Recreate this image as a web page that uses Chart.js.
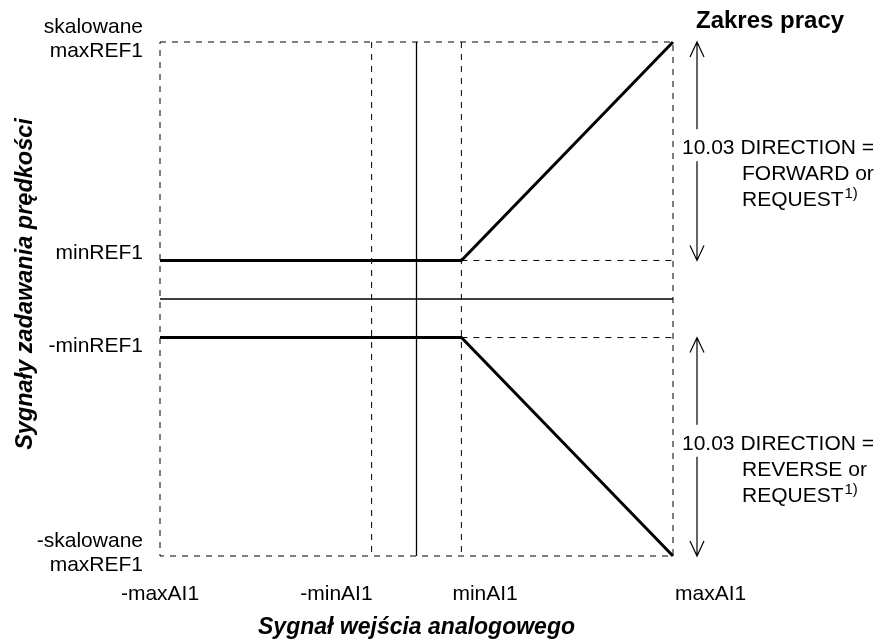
<!DOCTYPE html>
<html>
<head>
<meta charset="utf-8">
<script src="https://cdn.jsdelivr.net/npm/chart.js@4"></script>
<style>
  body { margin: 0; background: #fff; }
  canvas { display: block; }
</style>
</head>
<body>
<canvas id="refChart" width="890" height="643"></canvas>
<script>
const aiTicks = [-10, -1.75, 1.75, 10];
const aiLabels = ["-maxAI1", "-minAI1", "minAI1", "maxAI1"];
const refTicks = [10, 1.5, -1.5, -10];
const refLabels = [["skalowane", "maxREF1"], ["minREF1"], ["-minREF1"], ["-skalowane", "maxREF1"]];

const forwardAI = [-10, 1.75, 10];
const forwardRef = [1.5, 1.5, 10];
const reverseAI = [-10, 1.75, 10];
const reverseRef = [-1.5, -1.5, -10];

const forwardText = ["10.03 DIRECTION =", "FORWARD or", "REQUEST"];
const reverseText = ["10.03 DIRECTION =", "REVERSE or", "REQUEST"];

const maxAI = aiTicks[3], minAI = aiTicks[2];
const maxREF = refTicks[0], minREF = refTicks[1];

const FONT = '"Liberation Sans", Arial, sans-serif';

function pts(xs, ys) {
  return xs.map((x, i) => ({ x: x, y: ys[i] }));
}

function seg(data, width, dash) {
  return {
    data: data,
    showLine: true,
    borderColor: "#000",
    borderWidth: width,
    borderDash: dash,
    pointRadius: 0,
    tension: 0,
    clip: false,
  };
}

const dashed = [6, 6];

// x labels: first centred, the inner ones hug their guide line
const xAlign = ["center", "right", "left", "left"];
const xShift = [0, 1, -9, 2];

function arrow(ctx, x, y1, y2, gapFrom, gapTo) {
  ctx.beginPath();
  ctx.moveTo(x, y1);
  ctx.lineTo(x, gapFrom);
  ctx.moveTo(x, gapTo);
  ctx.lineTo(x, y2);
  // open heads
  ctx.moveTo(x - 7, y1 + 15);
  ctx.lineTo(x, y1);
  ctx.lineTo(x + 7, y1 + 15);
  ctx.moveTo(x - 7, y2 - 15);
  ctx.lineTo(x, y2);
  ctx.lineTo(x + 7, y2 - 15);
  ctx.stroke();
}

function rangeNote(ctx, area, top, bottom, lines) {
  const mid = (top + bottom) / 2;
  const base = mid + 3;
  arrow(ctx, area.right + 24, top, bottom, base - 25, base + 7);
  ctx.font = "21px " + FONT;
  ctx.textAlign = "left";
  ctx.textBaseline = "alphabetic";
  ctx.fillText(lines[0], area.right + 9, base);
  ctx.fillText(lines[1], area.right + 69, base + 26);
  ctx.fillText(lines[2], area.right + 69, base + 52);
  const w = ctx.measureText(lines[2]).width;
  ctx.font = "15px " + FONT;
  ctx.fillText("1)", area.right + 70 + w, base + 44);
}

const labelsPlugin = {
  id: "labels",
  afterDraw(chart) {
    const { ctx, chartArea: area, scales: { x, y } } = chart;
    ctx.save();
    ctx.fillStyle = "#000";
    ctx.strokeStyle = "#000";
    ctx.lineWidth = 1.2;

    // reference signal labels
    ctx.font = "21px " + FONT;
    ctx.textAlign = "right";
    ctx.textBaseline = "middle";
    refTicks.forEach((v, i) => {
      const py = y.getPixelForValue(v);
      const lines = refLabels[i];
      const lx = area.left - 17;
      if (lines.length > 1) {
        lines.forEach((t, j) => {
          ctx.fillText(t, lx, py - 3 + (j - (lines.length - 1) / 2) * 24.5);
        });
      } else if (v > 0) {
        ctx.fillText(lines[0], lx, py - 7);
      } else {
        ctx.fillText(lines[0], lx, py + 8.5);
      }
    });

    // analog input labels
    ctx.textBaseline = "alphabetic";
    aiTicks.forEach((v, i) => {
      ctx.textAlign = xAlign[i];
      ctx.fillText(aiLabels[i], x.getPixelForValue(v) + xShift[i], area.bottom + 44);
    });

    // axis titles
    ctx.font = "italic bold 23px " + FONT;
    ctx.textAlign = "center";
    ctx.fillText("Sygnał wejścia analogowego", (area.left + area.right) / 2, area.bottom + 78);
    ctx.save();
    ctx.translate(32, (area.top + area.bottom) / 2 - 15);
    ctx.rotate(-Math.PI / 2);
    ctx.font = "italic bold 23.5px " + FONT;
    ctx.fillText("Sygnały zadawania prędkości", 0, 0);
    ctx.restore();

    ctx.font = "bold 24px " + FONT;
    ctx.textAlign = "left";
    ctx.fillText("Zakres pracy", area.right + 23, 28);

    rangeNote(ctx, area, y.getPixelForValue(maxREF), y.getPixelForValue(minREF), forwardText);
    rangeNote(ctx, area, y.getPixelForValue(-minREF), y.getPixelForValue(-maxREF), reverseText);
    ctx.restore();
  },
};

new Chart(document.querySelector("#refChart"), {
  type: "scatter",
  data: {
    datasets: [
      seg(pts(forwardAI, forwardRef), 3, []),
      seg(pts(reverseAI, reverseRef), 3, []),
      // solid zero axes
      seg(pts([-maxAI, maxAI], [0, 0]), 1.3, []),
      seg(pts([0, 0], [maxREF, -maxREF]), 1.3, []),
      // dashed frame and guides
      seg(pts([-maxAI, maxAI, maxAI, -maxAI, -maxAI], [maxREF, maxREF, -maxREF, -maxREF, maxREF]), 1, dashed),
      seg(pts([-minAI, -minAI], [maxREF, -maxREF]), 1, dashed),
      seg(pts([minAI, minAI], [maxREF, -maxREF]), 1, dashed),
      seg(pts([minAI, maxAI], [minREF, minREF]), 1, dashed),
      seg(pts([minAI, maxAI], [-minREF, -minREF]), 1, dashed),
    ],
  },
  options: {
    responsive: false,
    animation: false,
    layout: { padding: { left: 160, top: 42, right: 217, bottom: 87 } },
    scales: {
      x: { type: "linear", min: -maxAI, max: maxAI, display: false },
      y: { type: "linear", min: -maxREF, max: maxREF, display: false },
    },
    plugins: {
      legend: { display: false },
      tooltip: { enabled: false },
    },
  },
  plugins: [labelsPlugin],
});
</script>
</body>
</html>
